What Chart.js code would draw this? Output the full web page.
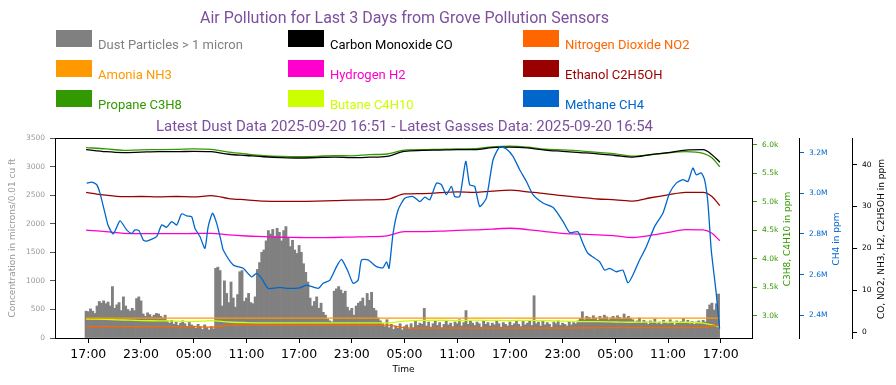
<!DOCTYPE html>
<html>
<head>
<meta charset="utf-8">
<title>Air Pollution for Last 3 Days</title>
<script src="https://cdn.jsdelivr.net/npm/chart.js"></script>
<style>
  html, body { margin: 0; padding: 0; background: #fff; }
  #wrap { width: 896px; height: 385px; }
</style>
</head>
<body>
<div id="wrap"><canvas id="airChart" width="896" height="385"></canvas></div>
<script>
// time axis: hours counted from the first 17:00 shown on the axis
const tickHours = [0, 6, 12, 18, 24, 30, 36, 42, 48, 54, 60, 66, 72];
const tickLabels = ['17:00', '23:00', '05:00', '11:00', '17:00', '23:00', '05:00',
                    '11:00', '17:00', '23:00', '05:00', '11:00', '17:00'];

const dustTicks = [0, 500, 1000, 1500, 2000, 2500, 3000, 3500];
const c3Ticks = [3000, 3500, 4000, 4500, 5000, 5500, 6000];
const c3TickLabels = ['3.0k', '3.5k', '4.0k', '4.5k', '5.0k', '5.5k', '6.0k'];
const ch4Ticks = [2400000, 2600000, 2800000, 3000000, 3200000];
const ch4TickLabels = ['2.4M', '2.6M', '2.8M', '3.0M', '3.2M'];
const gasTicks = [0, 10, 20, 30, 40];

const mainTitle = 'Air Pollution for Last 3 Days from Grove Pollution Sensors';
const subTitle = 'Latest Dust Data 2025-09-20 16:51 - Latest Gasses Data: 2025-09-20 16:54';
const titleColor = '#7d4f9e';

// dust readings, one every 15 minutes starting at 16:45
const dustStart = -0.25, dustStep = 0.25;
const dustVals = [
  470,
  460, 510, 470, 430,  560, 640, 610, 650,  600, 630, 560, 900,  520, 580, 620, 480,  720, 560, 500, 470,  520, 480, 690, 720,
  650, 420, 380, 440,  410, 370, 400, 430,  420, 380, 350, 400,  300, 260, 310, 240,  280, 220, 260, 300,  250, 200, 280, 230,
  210, 170, 240, 190,  150, 230, 180, 140,  200, 160, 1220, 1240,  1180, 560, 1000, 780,  620, 980, 700, 540,  760, 1160, 1180, 640,
  700, 780, 620, 600,  720, 1200, 1320, 1500,  1540, 1700, 1880, 1820,  1900, 1780, 1920, 1850,  1700, 1880, 1950, 1760,  1600, 1710, 1540, 1480,
  1620, 1500, 1300, 1150,  980, 700, 560, 640,  720, 520, 610, 450,  400, 330, 300, 280,  820, 860, 900, 840,  780, 820, 540, 480,
  520, 400, 560, 610,  640, 700, 560, 780,  660, 800, 520, 480,  350, 300, 250, 200,  320, 180, 240, 150,  210, 170, 250, 140,
  200, 230, 160, 250,  180, 300, 220, 260,  240, 520, 210, 280,  190, 250, 300, 220,  270, 180, 240, 310,  230, 260, 200, 280,
  250, 320, 210, 270,  480, 240, 300, 260,  220, 280, 250, 190,  300, 240, 270, 210,  260, 230, 300, 250,  190, 270, 240, 210,
  280, 220, 250, 300,  240, 200, 290, 230,  260, 310, 220, 740,  250, 280, 210, 300,  230, 270, 240, 190,  280, 250, 300, 220,
  260, 240, 210, 290,  230, 270, 250, 300,  340, 460, 320, 380,  360, 330, 390, 350,  310, 380, 340, 400,  370, 320, 350, 380,
  340, 390, 360, 330,  420, 350, 380, 340,  320, 280, 300, 350,  260, 310, 280, 240,  300, 270, 330, 250,  280, 240, 310, 270,
  250, 320, 280, 230,  300, 260, 290, 340,  270, 310, 250, 290,  240, 280, 300, 260,  310, 280, 500, 580,  610, 490, 600, 770
];

// gas readings (ppm)
const gasHours = [-0.25, 2, 4, 6, 8, 10, 12, 14, 16, 18, 20, 22, 24, 26, 28, 30, 32, 34, 36,
                  38, 40, 42, 44, 46, 48, 50, 52, 54, 56, 58, 60, 62, 64, 66, 68, 70, 71, 71.9];
const coVals = [43.6, 43.1, 42.9, 43.0, 43.1, 43.1, 43.2, 43.1, 42.5, 42.2, 41.9, 41.7, 41.6, 41.7, 41.8, 41.7, 41.8, 42.0, 43.2,
                43.4, 43.5, 43.6, 43.6, 44.1, 44.2, 44.0, 43.5, 43.2, 42.9, 42.6, 42.2, 41.8, 42.4, 42.9, 43.5, 43.6, 42.4, 40.6];
const no2Vals = [1.27, 1.27, 1.27, 1.27, 1.27, 1.27, 1.27, 1.15, 1.6, 1.65, 1.65, 1.65, 1.65, 1.65, 1.65, 1.65, 1.65, 1.65, 1.0,
                 0.95, 0.95, 0.95, 0.95, 0.95, 0.95, 0.95, 0.95, 0.95, 1.0, 1.05, 1.05, 1.05, 1.05, 1.05, 1.05, 1.15, 1.45, 1.55];
const nh3Vals = [3.3, 3.3, 3.3, 3.3, 3.3, 3.3, 3.3, 3.3, 3.3, 3.3, 3.3, 3.3, 3.3, 3.3, 3.3, 3.3, 3.3, 3.3, 3.3,
                 3.3, 3.3, 3.3, 3.3, 3.3, 3.3, 3.3, 3.3, 3.3, 3.3, 3.3, 3.3, 3.3, 3.3, 3.3, 3.3, 3.3, 3.3, 3.3];
const h2Vals = [24.35, 24.0, 23.6, 23.5, 23.5, 23.5, 23.55, 23.6, 23.2, 22.95, 22.8, 22.65, 22.6, 22.55, 22.6, 22.7, 22.8, 23.0, 24.0,
                24.0, 24.1, 24.3, 24.4, 24.6, 24.8, 24.5, 24.0, 23.6, 23.4, 23.2, 23.0, 22.6, 23.1, 23.8, 24.5, 24.4, 23.6, 21.8];
const ethanolVals = [33.4, 32.7, 32.35, 32.4, 32.3, 32.4, 32.3, 32.6, 31.9, 31.6, 31.3, 31.25, 31.25, 31.3, 31.4, 31.55, 31.6, 31.7, 33.0,
                     33.1, 33.3, 33.5, 33.4, 33.7, 33.9, 33.5, 33.1, 32.6, 32.2, 31.8, 31.6, 31.3, 32.1, 32.8, 33.4, 33.4, 32.4, 30.2];
const propaneVals = [5949, 5928, 5902, 5910, 5914, 5919, 5928, 5919, 5870, 5837, 5809, 5796, 5791, 5796, 5809, 5805, 5826, 5837, 5906,
                     5913, 5920, 5927, 5930, 5962, 5974, 5956, 5921, 5909, 5892, 5865, 5839, 5799, 5824, 5859, 5880, 5850, 5771, 5613];
const butaneVals = [2942, 2935, 2925, 2915, 2910, 2905, 2898, 2915, 2890, 2880, 2875, 2875, 2875, 2875, 2875, 2875, 2875, 2875, 2905,
                    2918, 2920, 2915, 2922, 2918, 2915, 2918, 2915, 2905, 2898, 2895, 2890, 2885, 2888, 2885, 2885, 2870, 2840, 2800];

// methane is noisier, read at its own points
const ch4Hours = [-0.18, 0.39, 0.96, 1.33, 1.90, 2.24, 2.84, 3.61, 4.37, 4.94, 5.31, 5.77, 6.26, 6.64, 7.78, 8.35, 8.92, 9.49,
  10.06, 10.63, 11.19, 11.76, 12.14, 12.71, 13.28, 13.65, 14.15, 14.61, 15.18, 15.36, 16.50, 17.63, 18.59, 19.16, 19.73,
  20.48, 21.81, 22.57, 24.08, 24.85, 26.17, 26.74, 27.50, 28.26, 28.83, 29.58, 30.15, 30.72, 31.10, 31.85, 32.81, 33.56,
  33.95, 34.24, 34.70, 35.27, 36.03, 36.97, 37.74, 38.31, 38.87, 39.64, 40.20, 40.77, 41.34, 41.72, 42.29, 42.97, 43.42,
  43.99, 44.56, 45.32, 46.08, 46.84, 47.60, 48.35, 49.11, 49.88, 50.63, 51.76, 52.90, 54.04, 54.80, 55.74, 56.31, 56.88,
  58.21, 58.78, 59.35, 60.11, 60.86, 61.43, 62.00, 62.76, 63.53, 64.47, 65.42, 66.18, 66.94, 67.69, 68.26, 68.83, 69.21,
  69.78, 70.16, 70.54, 70.92, 71.49, 71.87];
const ch4Vals = [3050000, 3055000, 3042000, 3001000, 2902000, 2844000, 2800000, 2864000, 2820000, 2803000, 2820000, 2816000,
  2770000, 2765000, 2787000, 2844000, 2833000, 2861000, 2844000, 2899000, 2889000, 2885000, 2828000, 2787000, 2729000,
  2836000, 2902000, 2853000, 2754000, 2721000, 2647000, 2631000, 2589000, 2606000, 2581000, 2532000, 2537000, 2532000,
  2535000, 2548000, 2532000, 2557000, 2573000, 2639000, 2675000, 2614000, 2557000, 2573000, 2672000, 2672000, 2639000,
  2634000, 2663000, 2631000, 2803000, 2918000, 2976000, 2984000, 2959000, 2981000, 2968000, 3050000, 3042000, 2993000,
  3034000, 2984000, 2984000, 3157000, 3042000, 3034000, 2935000, 2976000, 3165000, 3228000, 3218000, 3182000, 3116000,
  3058000, 2993000, 2952000, 2931000, 2862000, 2807000, 2811000, 2754000, 2705000, 2663000, 2622000, 2631000, 2614000,
  2622000, 2559000, 2598000, 2672000, 2737000, 2836000, 2902000, 3001000, 3050000, 3067000, 3058000, 3124000, 3091000,
  3100000, 3067000, 2953000, 2721000, 2507000, 2334000];

const dustTitle = 'Concentration in microns/0.01 cu ft';
const c3Title = 'C3H8, C4H10 in ppm';
const ch4Title = 'CH4 in ppm';
const gasTitle = 'CO, NO2, NH3, H2, C2H5OH in ppm';

// ---- helpers ----
function pts(xs, ys) {
  return xs.map((x, i) => ({ x: x, y: ys[i] }));
}

function lineSet(label, color, xs, ys, axis, order, smooth) {
  return {
    type: 'line', label: label, data: pts(xs, ys), yAxisID: axis,
    borderColor: color, backgroundColor: color, borderWidth: 1.3,
    pointRadius: 0, order: order,
    tension: smooth ? 0 : 0.2,
    cubicInterpolationMode: smooth ? 'monotone' : 'default'
  };
}

const tickFont = { family: 'DejaVu Sans', size: 7.5 };

function sideAxis(min, max, ticks, labels, color, weight, width) {
  return {
    type: 'linear', position: 'right', min: min, max: max, weight: weight,
    afterBuildTicks: s => { s.ticks = ticks.map(v => ({ value: v })); },
    ticks: {
      color: color, font: tickFont, padding: 5, autoSkip: false,
      callback: v => labels ? labels[ticks.indexOf(v)] : String(v)
    },
    grid: { drawOnChartArea: false, offset: false, tickLength: 5, tickColor: color },
    border: { color: '#000', width: 1 },
    afterFit: s => { s.width = width; }
  };
}

// title, 3x3 legend and the second title line
const header = {
  id: 'header',
  afterDraw(chart) {
    const g = chart.ctx, a = chart.chartArea;
    const mid = (a.left + a.right) / 2 + 1;
    const cols = [56, 288, 523];
    g.save();
    g.textAlign = 'center';
    g.textBaseline = 'alphabetic';
    g.fillStyle = titleColor;
    g.font = '16px Roboto';
    g.fillText(mainTitle, mid, 23);
    g.font = '15px Roboto';
    g.fillText(subTitle, mid, 131);

    g.textAlign = 'left';
    g.font = '13px Roboto';
    chart.data.datasets.forEach((ds, i) => {
      const x = cols[i % 3], y = 30 + Math.floor(i / 3) * 30;
      g.fillStyle = ds.type === 'bar' ? ds.backgroundColor : ds.borderColor;
      g.fillRect(x, y, 36, 17);
      g.fillText(ds.label, x + 42, y + 19);
    });

    // top edge of the plot frame
    g.strokeStyle = '#000';
    g.lineWidth = 1;
    g.beginPath();
    g.moveTo(a.left, a.top + 0.5);
    g.lineTo(a.right, a.top + 0.5);
    g.stroke();

    // right-hand axis titles, read bottom to top
    g.font = '9px "DejaVu Sans"';
    g.textAlign = 'center';
    g.textBaseline = 'middle';
    const midY = (a.top + a.bottom) / 2 + 1;
    [['yG', 36, c3Title, '#339900'], ['yB', 38, ch4Title, '#0066cc'], ['yK', 30, gasTitle, '#000000']]
      .forEach(([id, off, text, color]) => {
        g.save();
        g.translate(chart.scales[id].left + off, midY);
        g.rotate(-Math.PI / 2);
        g.fillStyle = color;
        g.fillText(text, 0, 0);
        g.restore();
      });
    g.restore();
  }
};

const dustPts = dustVals.map((v, i) => ({ x: dustStart + i * dustStep, y: v }));

new Chart(document.getElementById('airChart'), {
  type: 'line',
  data: {
    datasets: [
      { type: 'bar', label: 'Dust Particles > 1 micron', data: dustPts, yAxisID: 'y',
        backgroundColor: '#808080', borderWidth: 0, barPercentage: 1, categoryPercentage: 1, order: 10 },
      lineSet('Carbon Monoxide CO', '#000000', gasHours, coVals, 'yK', 2, true),
      lineSet('Nitrogen Dioxide NO2', '#ff6600', gasHours, no2Vals, 'yK', 2, true),
      lineSet('Amonia NH3', '#ff9900', gasHours, nh3Vals, 'yK', 2, true),
      lineSet('Hydrogen H2', '#ff00cc', gasHours, h2Vals, 'yK', 2, true),
      lineSet('Ethanol C2H5OH', '#990000', gasHours, ethanolVals, 'yK', 2, true),
      lineSet('Propane C3H8', '#339900', gasHours, propaneVals, 'yG', 3, true),
      lineSet('Butane C4H10', '#ccff00', gasHours, butaneVals, 'yG', 2, true),
      lineSet('Methane CH4', '#0066cc', ch4Hours, ch4Vals, 'yB', 1, false)
    ]
  },
  options: {
    responsive: false,
    animation: false,
    devicePixelRatio: 1,
    layout: { padding: { top: 138, left: 0, right: 0, bottom: 0 } },
    plugins: { legend: { display: false }, tooltip: { enabled: false } },
    scales: {
      x: {
        type: 'linear', min: -3.79, max: 75.56, offset: false,
        afterBuildTicks: s => { s.ticks = tickHours.map(v => ({ value: v })); },
        ticks: {
          color: '#000', font: { family: 'DejaVu Sans', size: 12.5 }, padding: 4,
          autoSkip: false, maxRotation: 0,
          callback: v => tickLabels[tickHours.indexOf(v)]
        },
        grid: { drawOnChartArea: false, offset: false, tickLength: 5, tickColor: '#000' },
        border: { color: '#000', width: 1 },
        title: { display: true, text: 'Time', color: '#000',
                 font: { family: 'DejaVu Sans', size: 9 }, padding: { top: 0, bottom: 10 } },
        afterFit: s => { s.height = 47; }
      },
      y: {
        type: 'linear', position: 'left', min: 0, max: 3500,
        afterBuildTicks: s => { s.ticks = dustTicks.map(v => ({ value: v })); },
        ticks: { color: '#999', font: tickFont, padding: 5, autoSkip: false, callback: v => String(v) },
        grid: { drawOnChartArea: false, offset: false, tickLength: 5, tickColor: '#555' },
        border: { color: '#000', width: 1 },
        title: { display: true, text: dustTitle, color: '#999',
                 font: { family: 'DejaVu Sans', size: 9 }, padding: { top: 7, bottom: 0 } },
        afterFit: s => { s.width = 55; }
      },
      yG: sideAxis(2609, 6118, c3Ticks, c3TickLabels, '#339900', 1, 47),
      yB: sideAxis(2288000, 3272000, ch4Ticks, ch4TickLabels, '#0066cc', 2, 53),
      yK: sideAxis(-1.43, 46.38, gasTicks, null, '#000000', 3, 44)
    }
  },
  plugins: [header]
});
</script>
</body>
</html>
